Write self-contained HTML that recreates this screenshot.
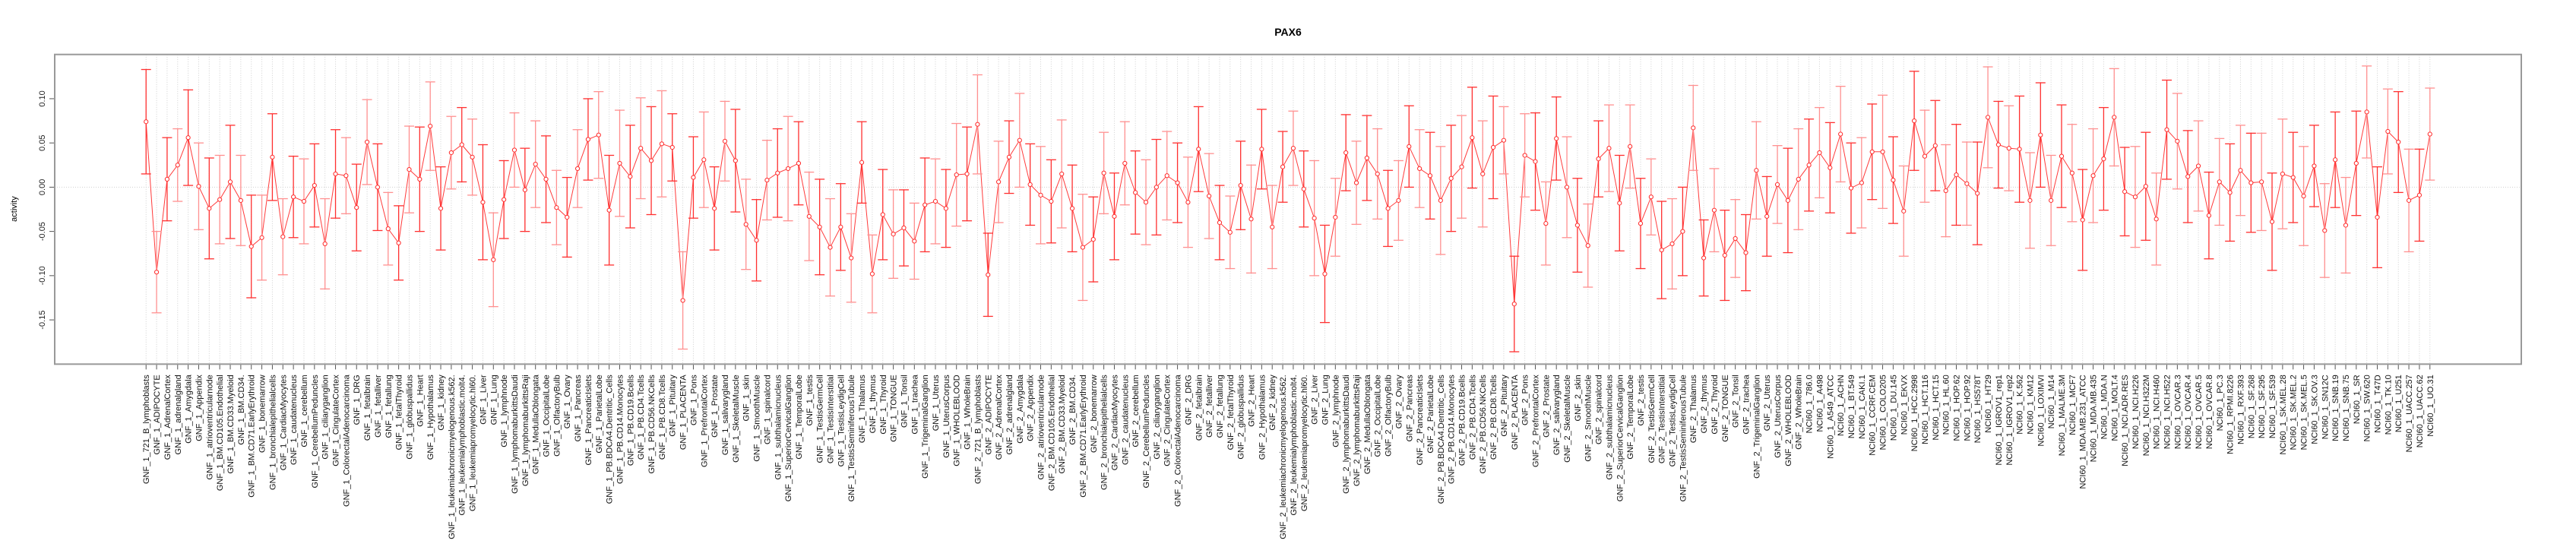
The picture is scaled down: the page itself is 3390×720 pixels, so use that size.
<!DOCTYPE html>
<html>
<head>
<meta charset="utf-8">
<style>
html,body{margin:0;padding:0;background:#fff;}
svg{display:block;font-family:"Liberation Sans",Arial,sans-serif;}
</style>
</head>
<body>
<svg id="chart" width="3390" height="720" viewBox="0 0 3390 720" xmlns="http://www.w3.org/2000/svg">
  <text x="1695" y="47" text-anchor="middle" font-size="14" font-weight="bold">PAX6</text>
  <text transform="translate(22,275) rotate(-90)" text-anchor="middle" font-size="11">activity</text>
  <g id="grid"></g>
  <g id="yaxis"></g>
  <g id="xaxis"></g>
  <g id="series"></g>
  <rect x="72" y="71.7" width="3246" height="407.6" fill="none" stroke="#999" stroke-width="2"/>
</svg>
<script>
const g1 = ["721_B_lymphoblasts","ADIPOCYTE","AdrenalCortex","adrenalgland","Amygdala","Appendix","atrioventricularnode","BM.CD105.Endothelial","BM.CD33.Myeloid","BM.CD34.","BM.CD71.EarlyErythroid","bonemarrow","bronchialepithelialcells","CardiacMyocytes","caudatenucleus","cerebellum","CerebellumPeduncles","ciliaryganglion","CingulateCortex","ColorectalAdenocarcinoma","DRG","fetalbrain","fetalliver","fetallung","fetalThyroid","globuspallidus","Heart","Hypothalamus","kidney","leukemiachronicmyelogenous.k562.","leukemialymphoblastic.molt4.","leukemiapromyelocytic.hl60.","Liver","Lung","lymphnode","lymphomaburkittsDaudi","lymphomaburkittsRaji","MedullaOblongata","OccipitalLobe","OlfactoryBulb","Ovary","Pancreas","PancreaticIslets","ParietalLobe","PB.BDCA4.Dentritic_Cells","PB.CD14.Monocytes","PB.CD19.Bcells","PB.CD4.Tcells","PB.CD56.NKCells","PB.CD8.Tcells","Pituitary","PLACENTA","Pons","PrefrontalCortex","Prostate","salivarygland","SkeletalMuscle","skin","SmoothMuscle","spinalcord","subthalamicnucleus","SuperiorCervicalGanglion","TemporalLobe","testis","TestisGermCell","TestisInterstitial","TestisLeydigCell","TestisSeminiferousTubule","Thalamus","thymus","Thyroid","TONGUE","Tonsil","trachea","TrigeminalGanglion","Uterus","UterusCorpus","WHOLEBLOOD","WholeBrain"];
const nci = ["786.0","A498","A549_ATCC","ACHN","BT.549","CAKI.1","CCRF.CEM","COLO205","DU.145","EKVX","HCC.2998","HCT.116","HCT.15","HL.60","HOP.62","HOP.92","HS578T","HT29","IGROV1_rep1","IGROV1_rep2","K.562","KM12","LOXIMVI","M14","MALME.3M","MCF7","MDA.MB.231_ATCC","MDA.MB.435","MDA.N","MOLT.4","NCI.ADR.RES","NCI.H226","NCI.H322M","NCI.H460","NCI.H522","OVCAR.3","OVCAR.4","OVCAR.5","OVCAR.8","PC.3","RPMI.8226","RXF.393","SF.268","SF.295","SF.539","SK.MEL.28","SK.MEL.2","SK.MEL.5","SK.OV.3","SN12C","SNB.19","SNB.75","SR","SW.620","T47D","TK.10","U251","UACC.257","UACC.62","UO.31"];
const categories = g1.map(s => "GNF_1_" + s).concat(g1.map(s => "GNF_2_" + s)).concat(nci.map(s => "NCI60_1_" + s));

const values = [
0.074,-0.096,0.009,0.025,0.056,0.001,-0.024,-0.014,0.006,-0.015,-0.067,-0.057,0.034,-0.056,-0.011,-0.016,0.002,-0.064,0.015,0.013,-0.023,0.051,0.0,-0.047,-0.063,0.02,0.009,0.069,-0.024,0.039,0.048,0.034,-0.017,-0.082,-0.014,0.042,-0.003,
0.026,0.009,-0.023,-0.034,0.021,0.054,0.059,-0.026,0.027,0.012,0.044,0.03,0.049,0.045,-0.128,0.011,0.031,-0.024,0.052,0.03,-0.042,-0.06,0.008,0.016,0.021,0.027,-0.033,-0.045,-0.068,-0.045,-0.08,0.028,-0.098,-0.031,-0.053,-0.046,-0.061,
-0.02,-0.016,-0.024,0.014,0.015,0.071,-0.099,0.006,0.034,0.053,0.003,-0.009,-0.016,0.015,-0.024,-0.068,-0.059,0.016,-0.033,0.027,-0.006,-0.017,0.0,0.013,0.005,-0.017,0.043,-0.01,-0.04,-0.051,0.002,-0.036,0.043,-0.045,0.023,0.044,-0.002,
-0.035,-0.098,-0.034,0.039,0.005,0.033,0.015,-0.024,-0.015,0.046,0.021,0.013,-0.015,0.01,0.023,0.056,0.015,0.045,0.053,-0.132,0.036,0.029,-0.041,0.055,0.0,-0.043,-0.066,0.032,0.044,-0.018,0.046,-0.041,-0.011,-0.071,-0.064,-0.05,0.067,
-0.08,-0.026,-0.077,-0.058,-0.074,0.019,-0.033,0.003,-0.015,0.009,0.025,0.039,0.022,0.06,-0.001,0.005,0.04,0.04,0.008,-0.027,0.075,0.035,0.047,-0.004,0.014,0.004,-0.007,0.079,0.048,0.044,0.043,-0.015,0.059,-0.015,0.035,0.016,-0.037,
0.013,0.032,0.079,-0.005,-0.011,0.001,-0.036,0.065,0.052,0.012,0.024,-0.032,0.006,-0.006,0.019,0.005,0.006,-0.039,0.015,0.011,-0.01,0.024,-0.049,0.031,-0.043,0.027,0.085,-0.034,0.063,0.051,-0.015,-0.009,0.06
];
const errors = [
0.059,0.046,0.047,0.041,0.054,0.049,0.057,0.05,0.064,0.051,0.058,0.048,0.049,0.043,0.046,0.048,0.047,0.051,0.05,0.043,0.049,0.048,0.049,0.041,0.042,0.049,0.059,0.05,0.047,0.041,0.042,0.043,0.065,0.053,0.044,0.042,0.047,
0.049,0.049,0.042,0.045,0.044,0.046,0.049,0.062,0.06,0.058,0.057,0.061,0.06,0.038,0.055,0.046,0.054,0.047,0.045,0.058,0.051,0.046,0.045,0.05,0.059,0.047,0.05,0.054,0.055,0.049,0.05,0.046,0.044,0.051,0.05,0.043,0.043,
0.053,0.048,0.044,0.058,0.053,0.056,0.047,0.046,0.041,0.053,0.046,0.055,0.047,0.061,0.049,0.06,0.048,0.046,0.049,0.047,0.047,0.048,0.054,0.05,0.045,0.051,0.048,0.048,0.042,0.041,0.05,0.061,0.045,0.047,0.04,0.042,0.043,
0.065,0.055,0.044,0.043,0.047,0.048,0.051,0.043,0.045,0.046,0.044,0.049,0.061,0.06,0.058,0.057,0.06,0.058,0.038,0.054,0.047,0.055,0.047,0.047,0.057,0.053,0.047,0.043,0.049,0.054,0.047,0.051,0.043,0.055,0.051,0.05,0.048,
0.043,0.047,0.051,0.044,0.043,0.055,0.045,0.044,0.059,0.057,0.052,0.051,0.051,0.054,0.051,0.051,0.054,0.064,0.049,0.051,0.056,0.052,0.051,0.052,0.057,0.047,0.058,0.057,0.049,0.048,0.06,0.054,0.059,0.051,0.058,0.055,0.057,
0.053,0.058,0.055,0.05,0.057,0.061,0.052,0.056,0.054,0.052,0.051,0.049,0.049,0.055,0.051,0.056,0.055,0.055,0.062,0.051,0.056,0.046,0.053,0.054,0.054,0.059,0.052,0.057,0.048,0.057,0.058,0.052,0.052
];
const yTicks = [-0.15, -0.10, -0.05, 0.00, 0.05, 0.10];
const yTickLabels = ["-0.15", "-0.10", "-0.05", "0.00", "0.05", "0.10"];

const NS = "http://www.w3.org/2000/svg";
const PL = 72, PR = 3318, PT = 71.7, PB = 479.3;
const n = values.length;
const pad = 0.04 * (n - 1);
function xs(i) { return PL + (i + pad) / ((n - 1) + 2 * pad) * (PR - PL); }
const YMIN = -0.2, YMAX = 0.15;
function ys(v) { return PB - (v - YMIN) / (YMAX - YMIN) * (PB - PT); }
function mk(tag, attrs, parent) {
  const e = document.createElementNS(NS, tag);
  for (const k in attrs) e.setAttribute(k, attrs[k]);
  parent.appendChild(e);
  return e;
}
const grid = document.getElementById('grid');
const yaxis = document.getElementById('yaxis');
const xaxis = document.getElementById('xaxis');
const series = document.getElementById('series');

for (let i = 0; i < n; i++) {
  const gl = mk('line', {x1: xs(i), x2: xs(i), y1: PT, y2: PB, stroke: '#cfcfcf', 'stroke-width': 1, 'stroke-dasharray': '1,2'}, grid);
  
  
}
const zl = mk('line', {x1: PL, x2: PR, y1: ys(0), y2: ys(0), stroke: '#cfcfcf', 'stroke-width': 1, 'stroke-dasharray': '1,2'}, grid);



// y axis
const yl = mk('line', {x1: PL, x2: PL, y1: ys(yTicks[0]), y2: ys(yTicks[yTicks.length - 1]), stroke: '#555', 'stroke-width': 1.5}, yaxis);


yTicks.forEach((t, k) => {
  const tk = mk('line', {x1: PL - 7, x2: PL, y1: ys(t), y2: ys(t), stroke: '#555', 'stroke-width': 1}, yaxis);
  
  
  const tx = mk('text', {transform: `translate(${PL - 13},${ys(t)}) rotate(-90)`, 'text-anchor': 'middle', 'font-size': 11, fill: '#222'}, yaxis);
  tx.textContent = yTickLabels[k];
  
  
});

// x axis
const xl = mk('line', {x1: PL, x2: PR, y1: PB, y2: PB, stroke: '#444', 'stroke-width': 1.5}, xaxis);


for (let i = 0; i < n; i++) {
  const tk = mk('line', {x1: xs(i), x2: xs(i), y1: PB, y2: PB + 7, stroke: '#555', 'stroke-width': 1}, xaxis);
  
  
  const tx = mk('text', {transform: `translate(${xs(i) + 4},${PB + 14}) rotate(-90)`, 'text-anchor': 'end', 'font-size': 11, fill: '#111'}, xaxis);
  tx.textContent = categories[i];
  
  
}

// connecting line
let d = '';
for (let i = 0; i < n; i++) d += (i ? 'L' : 'M') + xs(i).toFixed(2) + ',' + ys(values[i]).toFixed(2);
const path = mk('path', {d: d, fill: 'none', stroke: '#ff3b3b', 'stroke-width': 1}, series);



// error bars and points
for (let i = 0; i < n; i++) {
  const x = xs(i), hi = ys(values[i] + errors[i]), lo = ys(values[i] - errors[i]);
  const col = (i % 2) ? '#ff9090' : '#ff3030';
  const eb = mk('g', {stroke: col, 'stroke-width': 1.3, fill: 'none'}, series);
  
  
  mk('line', {x1: x, x2: x, y1: hi, y2: lo}, eb);
  mk('line', {x1: x - 6.5, x2: x + 6.5, y1: hi, y2: hi}, eb);
  mk('line', {x1: x - 6.5, x2: x + 6.5, y1: lo, y2: lo}, eb);
  const c = mk('circle', {cx: x, cy: ys(values[i]), r: 2.6, fill: '#fff', stroke: '#ff2a2a', 'stroke-width': 1}, series);
  
  
}
</script>
</body>
</html>
